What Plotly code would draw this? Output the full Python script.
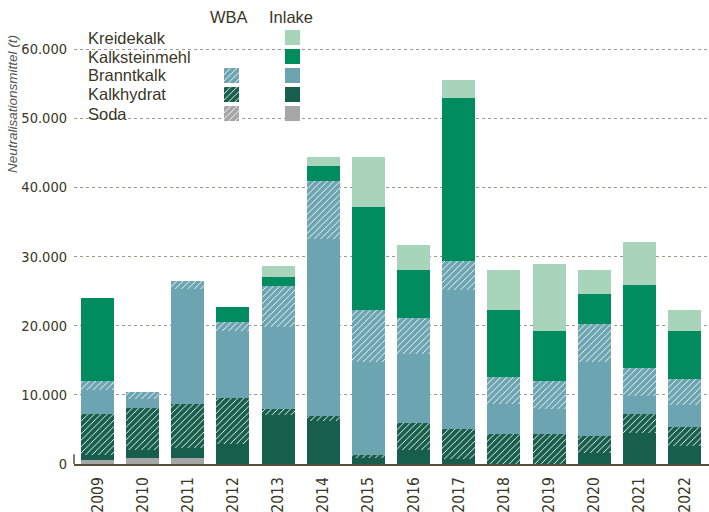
import plotly.graph_objects as go

years = ["2009", "2010", "2011", "2012", "2013", "2014", "2015",
         "2016", "2017", "2018", "2019", "2020", "2021", "2022"]

soda_inlake = [650, 800, 800, 0, 0, 0, 0, 0, 0, 0, 0, 0, 0, 0]
soda_wba = [0, 0, 0, 0, 0, 0, 0, 0, 0, 0, 0, 0, 0, 0]
kalkhydrat_inlake = [720, 1250, 1480, 2960, 7060, 6190, 870, 2000, 690, 0, 0, 1520, 4550, 2570]
kalkhydrat_wba = [5890, 6020, 6370, 6550, 860, 780, 360, 3860, 4340, 4410, 4270, 2460, 2610, 2710]
branntkalk_inlake = [3370, 1300, 16620, 9790, 11960, 25530, 13590, 10070, 20200, 4240, 3650, 10840, 2740, 3180]
branntkalk_wba = [1440, 970, 1120, 1300, 5890, 8350, 7380, 5150, 4050, 4000, 4010, 5350, 4050, 3760]
kalksteinmehl_inlake = [11860, 0, 0, 2170, 1200, 2170, 14930, 6900, 23710, 9550, 7370, 4340, 11860, 7080]
kreidekalk_inlake = [0, 0, 0, 0, 1730, 1300, 7190, 3620, 2460, 5920, 9590, 3610, 6220, 3030]

ytick_vals = [0, 10000, 20000, 30000, 40000, 50000, 60000]
ytick_text = ["0", "10.000", "20.000", "30.000", "40.000", "50.000", "60.000"]

legend_names = ["Kreidekalk", "Kalksteinmehl", "Branntkalk", "Kalkhydrat", "Soda"]
legend_has_wba = [False, False, True, True, True]

C_KREIDE = "#A8D4BC"
C_KSM = "#008C5E"
C_BRANNT = "#6CA5B1"
C_HYDRAT = "#175F4C"
C_SODA = "#A6A6A6"
legend_colors = [C_KREIDE, C_KSM, C_BRANNT, C_HYDRAT, C_SODA]

TXT = "#3b3727"
W, H = 709, 512
ML, MR, MT, MB = 74, 0, 21, 48
PW, PH = W - ML - MR, H - MT - MB

def px_x(px):
    return (px - ML) / PW

def px_y(py):
    return (H - MB - py) / PH

COND = "DejaVu Sans Condensed, DejaVu Sans, sans-serif"
SANS = "Liberation Sans, Arial, sans-serif"

fig = go.Figure()

def hatch(color):
    return dict(shape="/", fgcolor="white", bgcolor=color, size=4.5,
                solidity=0.2, fillmode="replace")

series = [
    ("Soda Inlake", soda_inlake, C_SODA, False),
    ("Soda WBA", soda_wba, C_SODA, True),
    ("Kalkhydrat Inlake", kalkhydrat_inlake, C_HYDRAT, False),
    ("Kalkhydrat WBA", kalkhydrat_wba, C_HYDRAT, True),
    ("Branntkalk Inlake", branntkalk_inlake, C_BRANNT, False),
    ("Branntkalk WBA", branntkalk_wba, C_BRANNT, True),
    ("Kalksteinmehl Inlake", kalksteinmehl_inlake, C_KSM, False),
    ("Kreidekalk Inlake", kreidekalk_inlake, C_KREIDE, False),
]
for name, vals, col, hatched in series:
    marker = dict(color=col, line=dict(width=0))
    if hatched:
        marker["pattern"] = hatch(col)
    fig.add_trace(go.Bar(x=years, y=vals, name=name, marker=marker,
                         width=0.73, showlegend=False))

# legend swatches on a pixel-unit overlay axis
row_top = [30 + 19 * i for i in range(len(legend_names))]
wba_rows = [r for r, h in zip(row_top, legend_has_wba) if h]
wba_cols = [c for c, h in zip(legend_colors, legend_has_wba) if h]
for r, c in zip(wba_rows, wba_cols):
    fig.add_trace(go.Bar(x=[231.5], y=[15], base=[r], width=15,
                         marker=dict(color=c, line=dict(width=0), pattern=hatch(c)),
                         xaxis="x2", yaxis="y2", showlegend=False, hoverinfo="skip"))
for r, c in zip(row_top, legend_colors):
    fig.add_trace(go.Bar(x=[292.5], y=[15], base=[r], width=15,
                         marker=dict(color=c, line=dict(width=0)),
                         xaxis="x2", yaxis="y2", showlegend=False, hoverinfo="skip"))

annotations = []
for r, n in zip(row_top, legend_names):
    annotations.append(dict(x=px_x(86), y=px_y(r + 7.5), xref="paper", yref="paper", text=n,
                            showarrow=False, xanchor="left", yanchor="middle",
                            font=dict(family=SANS, size=16.5, color=TXT)))
annotations.append(dict(x=px_x(229), y=px_y(17), xref="paper", yref="paper", text="WBA",
                        showarrow=False, xanchor="center", yanchor="middle",
                        font=dict(family=SANS, size=16.5, color=TXT)))
annotations.append(dict(x=px_x(291), y=px_y(17), xref="paper", yref="paper", text="Inlake",
                        showarrow=False, xanchor="center", yanchor="middle",
                        font=dict(family=SANS, size=16.5, color=TXT)))
annotations.append(dict(x=px_x(12), y=px_y(104), xref="paper", yref="paper",
                        text="<i>Neutralisationsmittel (t)</i>",
                        showarrow=False, textangle=-90, xanchor="center", yanchor="middle",
                        font=dict(family=SANS, size=13.5, color="#555")))

shapes = [
    dict(type="rect", xref="paper", yref="paper", x0=0, x1=px_x(326),
         y0=px_y(125), y1=1.1, fillcolor="white", line=dict(width=0), layer="between"),
    dict(type="line", xref="paper", yref="y", x0=0, x1=0, y0=0, y1=1400,
         line=dict(color="#574f3a", width=1.5)),
]

fig.update_layout(
    width=W, height=H,
    margin=dict(l=ML, r=MR, t=MT, b=MB, autoexpand=False),
    plot_bgcolor="white", paper_bgcolor="white",
    barmode="stack", bargap=0,
    showlegend=False,
    xaxis=dict(type="category", range=[-0.52, 13.54], tickangle=-90,
               showline=True, linecolor="#574f3a", linewidth=2,
               showgrid=False, ticks="", ticklabelstandoff=5, automargin=False,
               tickfont=dict(family=COND, size=15.5, color=TXT)),
    yaxis=dict(range=[0, 64050], tickvals=ytick_vals, ticktext=ytick_text,
               showgrid=True, gridcolor="#9d998f", griddash="dot", gridwidth=1,
               zeroline=False, showline=False, ticks="", ticklabelstandoff=6,
               automargin=False,
               tickfont=dict(family=COND, size=14.5, color=TXT)),
    xaxis2=dict(overlaying="x", range=[ML, W - MR], visible=False, fixedrange=True,
                automargin=False),
    yaxis2=dict(overlaying="y", range=[H - MB, MT], visible=False, fixedrange=True,
                automargin=False),
    annotations=annotations,
    shapes=shapes,
)

fig.write_html("out.html", config={"displayModeBar": False},
               post_script="document.body.style.margin='0';document.body.style.padding='0';")
